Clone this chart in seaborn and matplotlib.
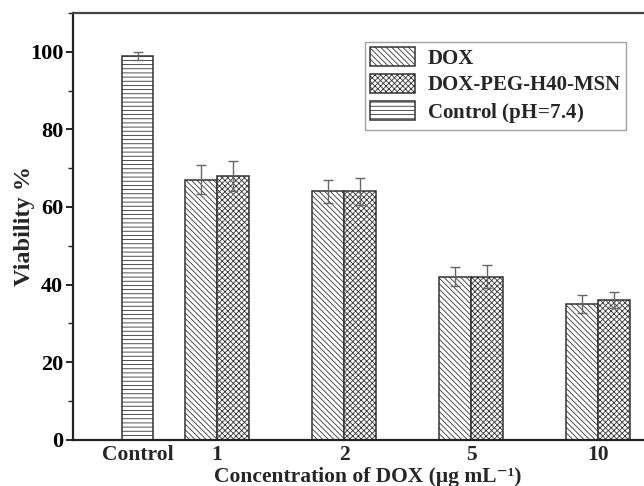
import numpy as np
import pandas as pd
import matplotlib
matplotlib.use("Agg")
import matplotlib.pyplot as plt
import seaborn as sns
from matplotlib.ticker import MultipleLocator
from matplotlib.patches import Patch

# ---- data -------------------------------------------------------------
concentrations = ["1", "2", "5", "10"]
dox_mean = [67, 64, 42, 35]
dox_err = [3.7, 3.0, 2.5, 2.3]
peg_mean = [68, 64, 42, 36]
peg_err = [3.9, 3.5, 3.0, 2.1]
control_mean = 99
control_err = 1.0
series_names = ["DOX", "DOX-PEG-H40-MSN"]
control_name = "Control"

df = pd.DataFrame({
    "conc": concentrations * 2,
    "viability": dox_mean + peg_mean,
    "err": dox_err + peg_err,
    "sample": [series_names[0]] * 4 + [series_names[1]] * 4,
})

# ---- style ------------------------------------------------------------
sns.set_theme(style="ticks")
plt.rcParams["font.family"] = ["Liberation Serif", "DejaVu Serif"]
plt.rcParams["font.weight"] = "bold"
plt.rcParams["mathtext.fontset"] = "custom"
plt.rcParams["mathtext.rm"] = "Liberation Serif"
plt.rcParams["mathtext.bf"] = "Liberation Serif:bold"
plt.rcParams["hatch.linewidth"] = 0.6

edge = "#333333"
hatches = {series_names[0]: "\\\\\\\\\\\\", series_names[1]: "xxxxxx"}
control_hatch = "----"

fig = plt.figure(figsize=(6.44, 4.86), dpi=100)
ax = fig.add_axes([73 / 644, 46.3 / 486, (661.5 - 73) / 644, 426.7 / 486])

sns.barplot(data=df, x="conc", y="viability", hue="sample",
            order=concentrations, hue_order=series_names,
            width=0.5, errorbar=None, fill=False, legend=False, ax=ax)

# hatch each series and add its error bars
for container, name, errs in zip(ax.containers, series_names, [dox_err, peg_err]):
    xs, ys = [], []
    for patch in container.patches:
        patch.set_hatch(hatches[name])
        patch.set_edgecolor(edge)
        patch.set_facecolor("white")
        patch.set_fill(True)
        patch.set_linewidth(1.1)
        xs.append(patch.get_x() + patch.get_width() / 2)
        ys.append(patch.get_height())
    ax.errorbar(xs, ys, yerr=errs, fmt="none", ecolor="#666666",
                elinewidth=1.0, capsize=3.5, capthick=1.0, zorder=5)

# single reference bar for the untreated control
bar_w = ax.containers[0].patches[0].get_width()
control_pos = -0.626
ax.bar([control_pos], [control_mean], width=bar_w, color="white",
       edgecolor=edge, hatch=control_hatch, linewidth=1.1)
ax.errorbar([control_pos], [control_mean], yerr=[control_err], fmt="none",
            ecolor="#666666", elinewidth=1.0, capsize=3.5, capthick=1.0, zorder=5)

# ---- axes -------------------------------------------------------------
ax.set_xlim(-1.134, 3.5)
ax.set_ylim(0, 110)
ax.set_xticks([control_pos] + list(range(len(concentrations))))
ax.set_xticklabels([control_name] + concentrations)
ax.yaxis.set_major_locator(MultipleLocator(20))
ax.yaxis.set_minor_locator(MultipleLocator(10))
ax.tick_params(axis="y", which="major", direction="out", length=5, width=1.2,
               labelsize=16, colors="black", pad=2)
ax.tick_params(axis="y", which="minor", direction="out", length=3.5, width=1.0)
ax.tick_params(axis="x", length=0, labelsize=15.5, pad=3.5)
for lab in ax.get_xticklabels() + ax.get_yticklabels():
    lab.set_fontweight("bold")

for side in ["left", "bottom"]:
    ax.spines[side].set_linewidth(1.6)
    ax.spines[side].set_color("#222222")
ax.spines["top"].set_linewidth(1.6)
ax.spines["top"].set_color("#444444")
ax.spines["right"].set_visible(False)

ax.set_ylabel("Viability %", fontsize=17.5, fontweight="bold", labelpad=-4)
ax.set_xlabel("Concentration of DOX (μg mL\u207b\u00b9)",
              fontsize=15.5, fontweight="bold", labelpad=1.5)

# ---- legend -----------------------------------------------------------
handles = [
    Patch(facecolor="white", edgecolor=edge, hatch=hatches[series_names[0]], linewidth=1.1),
    Patch(facecolor="white", edgecolor=edge, hatch=hatches[series_names[1]], linewidth=1.1),
    Patch(facecolor="white", edgecolor=edge, hatch=control_hatch, linewidth=1.1),
]
labels = [series_names[0], series_names[1],
          control_name + r" $\mathregular{(pH\!=\!7.4)}$"]
leg = ax.legend(handles, labels, loc="upper left", bbox_to_anchor=(0.496, 0.932),
                borderaxespad=0, frameon=True, fancybox=False,
                prop={"family": "Liberation Serif", "weight": "bold", "size": 15},
                handlelength=2.15, handleheight=1.0, labelspacing=0.25,
                handletextpad=0.6, borderpad=0.25)
leg.get_frame().set_edgecolor("#888888")
leg.get_frame().set_linewidth(1.0)

fig.savefig("out.png", dpi=100)
